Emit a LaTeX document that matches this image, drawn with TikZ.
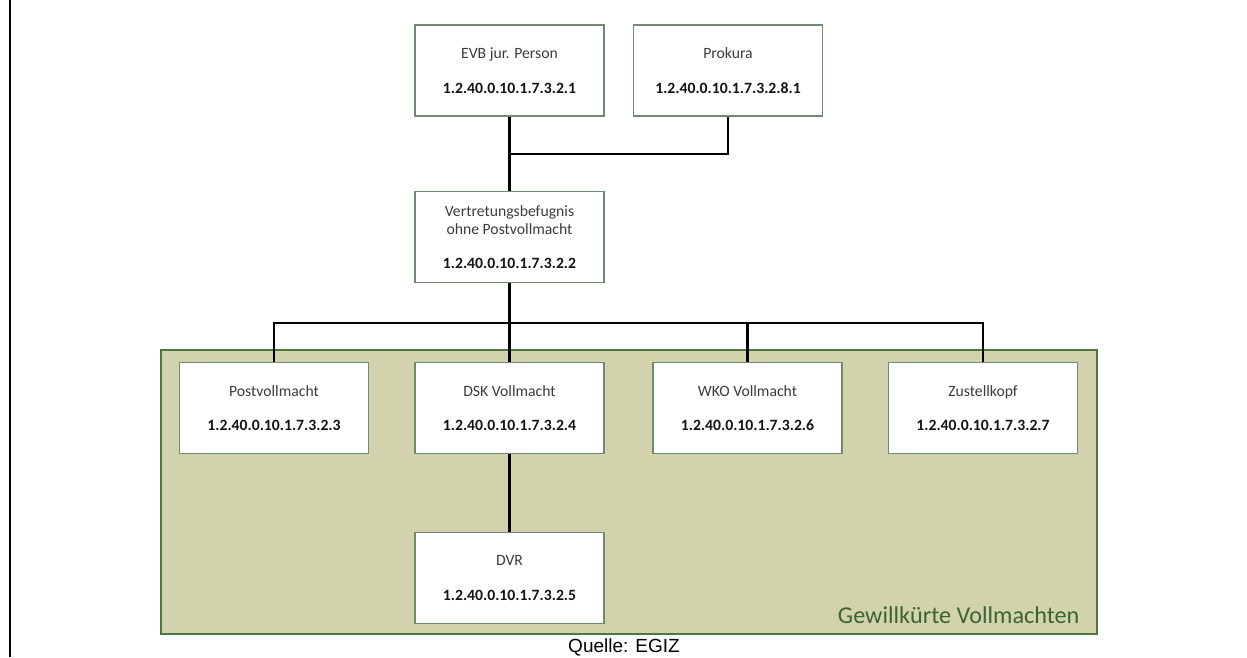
\documentclass[tikz,border=0pt]{standalone}
\usepackage{fontspec}
\setmainfont{Carlito}
\newfontfamily\arialfont{Liberation Sans}
\definecolor{boxline}{RGB}{112,140,112}
\definecolor{groupfill}{RGB}{210,211,172}
\definecolor{groupline}{RGB}{80,118,64}
\definecolor{grouptext}{RGB}{58,100,52}
\definecolor{labeltext}{RGB}{60,60,60}
\definecolor{numtext}{RGB}{20,20,20}
\begin{document}
\begin{tikzpicture}[x=1pt,y=-1pt,
  oidbox/.style={draw=boxline, line width=1.1pt, fill=white, minimum width=189pt, minimum height=91pt,
    inner sep=0pt, align=center, font=\fontsize{15.7}{18.5}\selectfont, text=labeltext},
  conn/.style={draw=black, line width=2.6pt}]
\useasboundingbox (0,0) rectangle (1247,657);
\fill[white] (0,0) rectangle (1247,657);
\draw[black, line width=2.5pt] (10,0) -- (10,657);
% group
\draw[groupline, line width=1.5pt, fill=groupfill] (161,350) rectangle (1097,634);
\node[anchor=base east, text=grouptext, font=\fontsize{24.2}{28}\selectfont] (gtitle) at (1083,623) {Gewillkürte Vollmachten};
% boxes
\newcommand{\oid}[1]{{\bfseries\color{numtext}#1}}
\node[oidbox] (evb) at (509.5,70.5) {EVB jur. Person\\[16pt]\oid{1.2.40.0.10.1.7.3.2.1}};
\node[oidbox] (prok) at (728,70.5) {Prokura\\[16pt]\oid{1.2.40.0.10.1.7.3.2.8.1}};
\node[oidbox] (vert) at (509.5,237) {Vertretungsbefugnis\\ohne Postvollmacht\\[15pt]\oid{1.2.40.0.10.1.7.3.2.2}};
\node[oidbox] (post) at (274,408) {Postvollmacht\\[16pt]\oid{1.2.40.0.10.1.7.3.2.3}};
\node[oidbox] (dsk) at (509.5,408) {DSK Vollmacht\\[16pt]\oid{1.2.40.0.10.1.7.3.2.4}};
\node[oidbox] (wko) at (747.5,408) {WKO Vollmacht\\[16pt]\oid{1.2.40.0.10.1.7.3.2.6}};
\node[oidbox] (zust) at (983,408) {Zustellkopf\\[16pt]\oid{1.2.40.0.10.1.7.3.2.7}};
\node[oidbox] (dvr) at (509.5,578) {DVR\\[16pt]\oid{1.2.40.0.10.1.7.3.2.5}};
% connectors
\coordinate (j1) at (509.5,154);
\coordinate (bus) at (509.5,323);
\draw[conn] (evb.south) -- (vert.north);
\draw[conn] (prok.south) |- (j1);
\draw[conn] (vert.south) -- (dsk.north);
\draw[conn] (post.north) |- (bus) -| (zust.north);
\draw[conn] (wko.north) -- (wko.north |- bus);
\draw[conn] (dsk.south) -- (dvr.north);
% source
\node[anchor=base, font=\arialfont\fontsize{19}{22}\selectfont] (src) at (624,652) {Quelle: EGIZ};
\end{tikzpicture}
\end{document}
